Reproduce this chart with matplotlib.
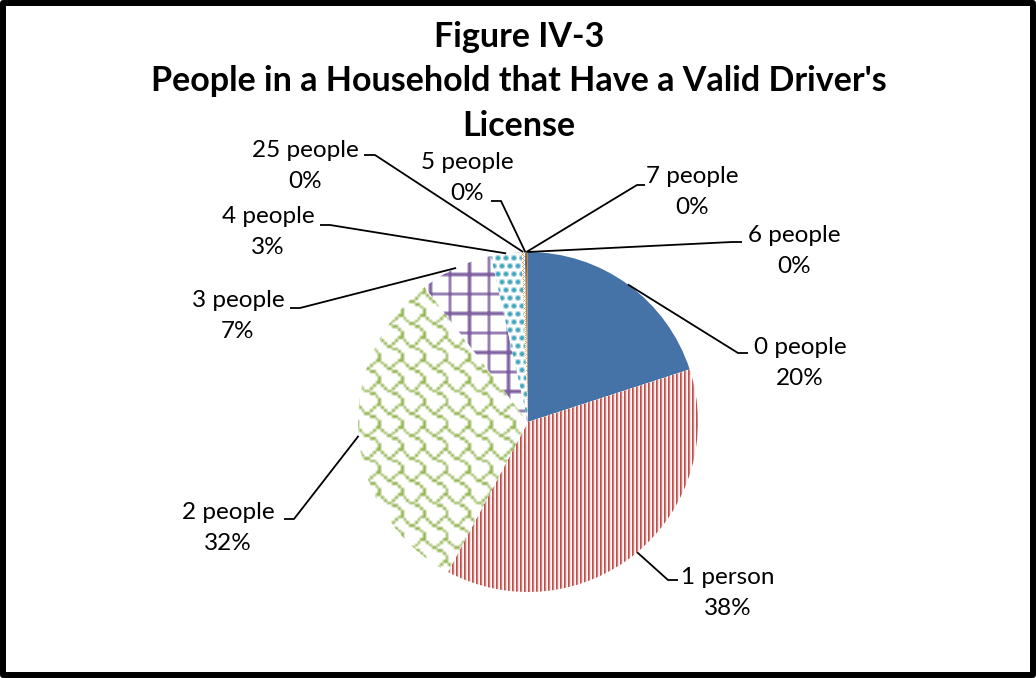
import numpy as np
import matplotlib
matplotlib.use("Agg")
import matplotlib.pyplot as plt
from matplotlib.patches import Rectangle

W, H = 1036, 678          # canvas in pixels (dpi 100)
CX, CY, R = 528, H - 422, 170

# ---------------------------------------------------------------- data
categories = ["0 people", "1 person", "2 people", "3 people", "4 people",
              "25 people", "5 people", "7 people", "6 people"]
shares = [20.0, 37.8, 31.8, 6.9, 2.9, 0.3, 0.1, 0.1, 0.1]   # percent
title = "Figure IV-3\nPeople in a Household that Have a Valid Driver's\nLicense"

# label layout: text centre and leader end / elbow (pixel coords, y down)
label_pos = {
    "0 people": ((800, 363), (748, 353), (738, 353)),
    "1 person": ((728, 593), (678, 580), (668, 580)),
    "2 people": ((228, 528), (284, 519), (294, 519)),
    "3 people": ((238, 316), (290, 308), (300, 308)),
    "4 people": ((268, 232), (320, 225), (330, 225)),
    "25 people": ((305, 166), (364, 155), (375, 155)),
    "5 people": ((467, 178), (491, 201), (501, 201)),
    "7 people": ((692, 192), (645, 185), (637, 185)),
    "6 people": ((794, 251), (742, 242), (732, 242)),
}

FONT = "Lato"


# ---------------------------------------------------------------- fills
def _rgba(c):
    return np.array(matplotlib.colors.to_rgba(c))


yy, xx = np.mgrid[0:H, 0:W]

# 8x8 "shingle" bitmap, scaled up to the canvas
SHINGLE = [0x03, 0x84, 0x48, 0x30, 0x0C, 0x02, 0x01, 0x01]


def _soften(mask, gain=1.5):
    """3x3 box blur of a 0/1 mask -> ink coverage in [0, 1]."""
    m = np.pad(mask.astype(float), 1, mode="edge")
    acc = sum(m[1 + dy:1 + dy + H, 1 + dx:1 + dx + W]
              for dy in (-1, 0, 1) for dx in (-1, 0, 1)) / 9.0
    return np.clip(acc * gain, 0, 1)


def _ink(cover, color, bg="white"):
    fg, bk = _rgba(color), _rgba(bg)
    return bk + (fg - bk) * cover[..., None]


def stripes():
    img = np.empty((H, W, 4))
    cols = ["#bf4f4c", "#d07f7d", "#f3dcdb", "#ffffff"]
    for k, c in enumerate(cols):
        img[(xx % 4) == k] = _rgba(c)
    return img


def shingles(scale=2.8):
    bits = np.array([[(row >> (7 - b)) & 1 for b in range(8)] for row in SHINGLE])
    r = (yy / scale).astype(int) % 8
    c = (xx / scale).astype(int) % 8
    return _ink(_soften(bits[r, c] == 1, 1.05), "#93b652")


def grid(step=19.5, frac=0.12):
    m = ((xx / step) % 1 < frac) | ((yy / step) % 1 < frac)
    return _ink(_soften(m, 1.2), "#7d5fa0")


def dots():
    shift = 4 * ((yy // 8) % 2)
    m = (((xx + shift) % 8) < 4) & ((yy % 8) < 4)
    return _ink(_soften(m, 1.3), "#3ea3bd")


def crosses():
    m = ((xx + yy) % 4 == 0) | ((xx - yy) % 4 == 0)
    return _ink(m.astype(float), "#f79646")


fills = [None, stripes, shingles, grid, dots, crosses, None, None, None]
base_colors = ["#4572a7", "white", "white", "white", "white",
               "white", "#4572a7", "#aa4643", "#89a54e"]

# ---------------------------------------------------------------- figure
fig = plt.figure(figsize=(W / 100, H / 100), dpi=100)
ax = fig.add_axes([0, 0, 1, 1])

wedges, _ = ax.pie(shares, startangle=90, counterclock=False, radius=R,
                   center=(CX, CY), colors=base_colors,
                   wedgeprops=dict(linewidth=0))

for w, fill in zip(wedges, fills):
    if fill is None:
        continue
    im = ax.imshow(fill(), extent=(0, W, 0, H), origin="upper",
                   interpolation="nearest", zorder=w.get_zorder() + 0.1)
    im.set_clip_path(w)

# labels with leader lines
for w, name, pct in zip(wedges, categories, shares):
    (tx, ty), (ex, ey), (bx, by) = label_pos[name]
    mid = np.deg2rad((w.theta1 + w.theta2) / 2)
    px, py = CX + R * np.cos(mid), CY + R * np.sin(mid)
    ax.plot([px, bx, ex], [py, H - by, H - ey], color="black", lw=1.3,
            solid_capstyle="butt", zorder=5)
    ax.text(tx, H - ty, f"{name}\n{pct:.0f}%", ha="center", va="center",
            fontsize=17.5, family=FONT, linespacing=1.55, zorder=6)

ax.text(W / 2 + 1, H - 21, title, ha="center", va="top", fontsize=24.5,
        fontweight="bold", family=FONT, linespacing=1.48)

ax.add_patch(Rectangle((3, 3), W - 6, H - 6, fill=False, edgecolor="black",
                       lw=4.3, joinstyle="round", zorder=10))

ax.set_xlim(0, W)
ax.set_ylim(0, H)
ax.set_aspect("equal")
ax.axis("off")

fig.savefig("out.png", dpi=100, facecolor="white")
